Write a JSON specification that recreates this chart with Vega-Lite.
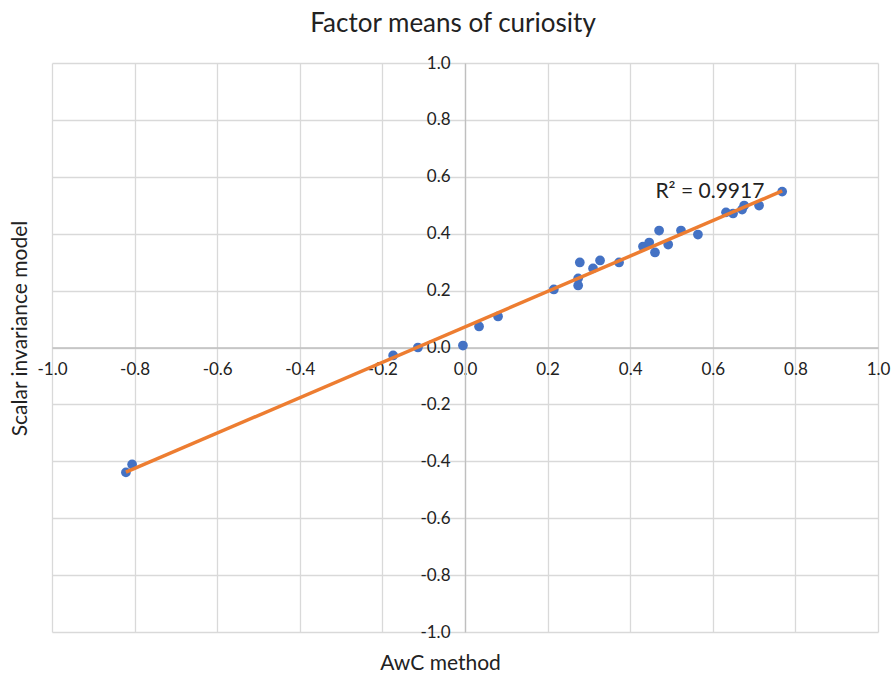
{
  "$schema": "https://vega.github.io/schema/vega-lite/v6.json",
  "width": 826,
  "height": 569,
  "autosize": "none",
  "padding": {"left": 52, "top": 63, "right": 15, "bottom": 41},
  "background": "white",
  "config": {"view": {"stroke": null}, "font": "Lato"},
  "title": {"text": "Factor means of curiosity", "fontSize": 26, "fontWeight": "normal", "font": "Lato", "color": "#222222", "anchor": "middle", "dx": -12, "offset": 17},
  "data": {"values": [
    {"awc": -0.821, "sim": -0.439},
    {"awc": -0.806, "sim": -0.411},
    {"awc": -0.174, "sim": -0.028},
    {"awc": -0.114, "sim": 0.0},
    {"awc": -0.005, "sim": 0.007},
    {"awc": 0.034, "sim": 0.074},
    {"awc": 0.080, "sim": 0.109},
    {"awc": 0.215, "sim": 0.204},
    {"awc": 0.274, "sim": 0.243},
    {"awc": 0.274, "sim": 0.218},
    {"awc": 0.278, "sim": 0.299},
    {"awc": 0.310, "sim": 0.278},
    {"awc": 0.327, "sim": 0.306},
    {"awc": 0.373, "sim": 0.299},
    {"awc": 0.431, "sim": 0.355},
    {"awc": 0.446, "sim": 0.369},
    {"awc": 0.460, "sim": 0.334},
    {"awc": 0.470, "sim": 0.411},
    {"awc": 0.492, "sim": 0.362},
    {"awc": 0.523, "sim": 0.411},
    {"awc": 0.564, "sim": 0.397},
    {"awc": 0.632, "sim": 0.475},
    {"awc": 0.649, "sim": 0.471},
    {"awc": 0.671, "sim": 0.485},
    {"awc": 0.676, "sim": 0.499},
    {"awc": 0.712, "sim": 0.499},
    {"awc": 0.768, "sim": 0.548}
  ]},
  "layer": [
    {
      "mark": {"type": "circle", "size": 95, "color": "#4472c4", "opacity": 1},
      "encoding": {
        "x": {
          "field": "awc", "type": "quantitative",
          "scale": {"domain": [-1, 1], "nice": false},
          "axis": {
            "title": "AwC method",
            "values": [-1, -0.8, -0.6, -0.4, -0.2, 0, 0.2, 0.4, 0.6, 0.8, 1],
            "labelExpr": "(datum.value < 0 ? '-' : '') + format(abs(datum.value), '.1f')",
            "offset": -284.5,
            "grid": true, "gridColor": "#d9d9d9", "gridWidth": 1.3,
            "domainColor": "#bfbfbf", "domainWidth": 1.3,
            "ticks": false,
            "labelFontSize": 17, "labelColor": "#222222", "labelPadding": 14,
            "labelFlush": false, "labelOverlap": false,
            "titleFontSize": 21, "titleFontWeight": "normal", "titleColor": "#222222",
            "titleX": 388, "titleY": 316, "titleBaseline": "middle", "titleAlign": "center"
          }
        },
        "y": {
          "field": "sim", "type": "quantitative",
          "scale": {"domain": [-1, 1], "nice": false},
          "axis": {
            "title": "Scalar invariance model",
            "values": [-1, -0.8, -0.6, -0.4, -0.2, 0, 0.2, 0.4, 0.6, 0.8, 1],
            "labelExpr": "(datum.value < 0 ? '-' : '') + format(abs(datum.value), '.1f')",
            "offset": -413,
            "grid": true, "gridColor": "#d9d9d9", "gridWidth": 1.3,
            "domainColor": "#bfbfbf", "domainWidth": 1.3,
            "ticks": false,
            "labelFontSize": 17, "labelColor": "#222222", "labelPadding": 15,
            "labelFlush": false, "labelOverlap": false,
            "titleFontSize": 21, "titleFontWeight": "normal", "titleColor": "#222222",
            "titleX": -445, "titleY": 265, "titleAngle": -90, "titleBaseline": "middle", "titleAlign": "center"
          }
        }
      }
    },
    {
      "transform": [{"regression": "sim", "on": "awc"}],
      "mark": {"type": "line", "color": "#ed7d31", "strokeWidth": 3.5},
      "encoding": {
        "x": {"field": "awc", "type": "quantitative"},
        "y": {"field": "sim", "type": "quantitative"}
      }
    },
    {
      "data": {"values": [{"awc": 0.593, "sim": 0.545, "label": "R² = 0.9917"}]},
      "mark": {"type": "text", "fontSize": 21, "font": "Lato", "color": "#222222", "align": "center", "baseline": "middle"},
      "encoding": {
        "x": {"field": "awc", "type": "quantitative"},
        "y": {"field": "sim", "type": "quantitative"},
        "text": {"field": "label"}
      }
    }
  ]
}
